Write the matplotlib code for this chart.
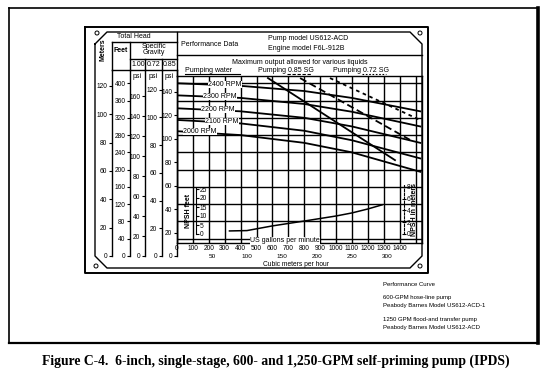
import numpy as np
import matplotlib.pyplot as plt
from matplotlib.patches import Circle

plt.rcParams['font.family'] = ['Liberation Sans', 'DejaVu Sans']

# ---- data -------------------------------------------------------------
rpm_labels = ['2400 RPM', '2300 RPM', '2200 RPM', '2100 RPM', '2000 RPM']
label_gpm = [195, 165, 150, 175, 40]
curve_gpm = [0, 400, 800, 1100, 1530]
head_2400 = [400, 394, 382, 366, 335]
head_2300 = [372, 366, 352, 334, 300]
head_2200 = [342, 335, 320, 300, 262]
head_2100 = [315, 307, 290, 268, 226]
head_2000 = [289, 280, 262, 240, 195]
curve_head = [head_2400, head_2300, head_2200, head_2100, head_2000]

# maximum-output limit lines (GPM, ft)
limit_water_gpm, limit_water_ft = [572, 1371], [412, 222]
limit_085_gpm, limit_085_ft = [774, 1465], [412, 269]
limit_072_gpm, limit_072_ft = [962, 1528], [412, 315]

npsh_gpm = [330, 440, 600, 800, 1000, 1100, 1200, 1290]
npsh_ft = [1.7, 1.9, 4.5, 7.2, 10.0, 11.7, 13.9, 16.2]

gpm_ticks = list(range(0, 1600, 100))
gpm_labels = [str(v) for v in range(0, 1500, 100)] + ['']
m3h_ticks = [50, 100, 150, 200, 250, 300]
head_grid_ft = list(range(40, 440, 40))

meter_ticks = list(range(0, 140, 20))
feet_ticks = list(range(0, 440, 40))
psi100_ticks = list(range(0, 180, 20))
psi072_ticks = list(range(0, 140, 20))
psi085_ticks = list(range(0, 160, 20))
npsh_ft_ticks = [0, 5, 10, 15, 20, 25]
npsh_m_ticks = [0, 2, 4, 6, 8]

# ---- layout helpers (pixel coords, origin top-left) --------------------
W, H = 550, 376
fig = plt.figure(figsize=(W / 100, H / 100), dpi=100)


def box(x0, y0, x1, y1):
    return [x0 / W, 1 - y1 / H, (x1 - x0) / W, (y1 - y0) / H]


cv = fig.add_axes([0, 0, 1, 1])
cv.set_xlim(0, W)
cv.set_ylim(H, 0)
cv.axis('off')

FT_PX = 1.417 / 3.281   # pixels per foot of head
Y0 = 256                # zero head level
TOPS = 70               # top of the scale columns
top_ft = (Y0 - TOPS) / FT_PX

# outer frame
cv.plot([9, 538], [8, 8], color='k', lw=1.2)
cv.plot([9, 9], [8, 343], color='k', lw=1.2)
cv.plot([538, 538], [8, 343], color='k', lw=2.6)
cv.plot([9, 538], [343, 343], color='k', lw=1.6)

# plate
cv.plot([85, 428, 428, 85, 85], [27, 27, 273, 273, 27], color='k', lw=1.4)
c = 12
px = [95, 95 + c, 422 - c, 422, 422, 422 - c, 95 + c, 95, 95]
py = [32 + c, 32, 32, 32 + c, 268 - c, 268, 268, 268 - c, 32 + c]
cv.plot(px, py, color='k', lw=1.0)
for cx, cy in [(97, 33), (420, 33), (96, 266), (420, 266)]:
    cv.add_patch(Circle((cx, cy), 2.0, fill=False, lw=0.7, color='k'))

# header table lines (left)
seg = [((112, 177), (42, 42)), ((130, 177), (59, 59)), ((112, 177), (70, 70)),
       ((112, 112), (42, 70)), ((130, 130), (42, 70)), ((145, 145), (59, 70)),
       ((162, 162), (59, 70)), ((177, 177), (32, 76)), ((177, 422), (55, 55))]
for xs, ys in seg:
    cv.plot(xs, ys, color='k', lw=1.0)

fs = 5
cv.text(134, 37, 'Total Head', fontsize=fs, ha='center', va='center')
cv.text(103, 50, 'Meters', fontsize=fs, rotation=90, ha='center', va='center', weight='bold')
cv.text(121, 50, 'Feet', fontsize=fs, ha='center', va='center', weight='bold')
cv.text(154, 47, 'Specific', fontsize=fs, ha='center', va='center')
cv.text(154, 53, 'Gravity', fontsize=fs, ha='center', va='center')
for x, s in [(138, '1.00'), (154, '0.72'), (170, '0.85')]:
    cv.text(x, 65, s, fontsize=fs, ha='center', va='center')
    cv.text(x - 1, 76, 'psi', fontsize=fs, ha='center', va='center')

cv.text(181, 45, 'Performance Data', fontsize=fs, va='center')
cv.text(268, 39, 'Pump model US612-ACD', fontsize=fs, va='center')
cv.text(268, 49, 'Engine model F6L-912B', fontsize=fs, va='center')
cv.text(300, 62, 'Maximum output allowed for various liquids', fontsize=fs, ha='center', va='center')
cv.text(185, 70, 'Pumping water', fontsize=fs, va='center')
cv.text(258, 70, 'Pumping 0.85 SG', fontsize=fs, va='center')
cv.text(333, 70, 'Pumping 0.72 SG', fontsize=fs, va='center')
cv.plot([185, 240], [73.5, 73.5], color='k', lw=0.8)
cv.plot([287, 312], [73.5, 73.5], color='k', lw=0.8, dashes=(3, 1.5))
cv.plot([362, 386], [73.5, 73.5], color='k', lw=0.8, dashes=(1.5, 1.5))

# right-hand notes
notes = [(284, 'Performance Curve'), (297, '600-GPM hose-line pump'),
         (305, 'Peabody Barnes Model US612-ACD-1'),
         (319, '1250 GPM flood-and transfer pump'),
         (327, 'Peabody Barnes Model US612-ACD')]
for y, s in notes:
    cv.text(383, y, s, fontsize=4.3, va='center')

cv.text(276, 361, 'Figure C-4.  6-inch, single-stage, 600- and 1,250-GPM self-priming pump (IPDS)',
        fontsize=9.8, family='Liberation Serif', weight='bold', ha='center', va='center')

# ---- head scales (each a single spine) ---------------------------------
scales = [(112, 1 / 3.281, meter_ticks), (130, 1.0, feet_ticks),
          (145, 0.433, psi100_ticks), (162, 0.433 * 0.72, psi072_ticks),
          (177, 0.433 * 0.85, psi085_ticks)]
for sx, k, ticks in scales:
    s = fig.add_axes(box(sx, TOPS, sx + 0.01, Y0))
    s.set_ylim(0, top_ft * k)
    s.patch.set_visible(False)
    for side in ['top', 'right', 'bottom']:
        s.spines[side].set_visible(False)
    s.spines['left'].set_linewidth(1.0)
    s.set_xticks([])
    s.set_yticks(ticks)
    s.tick_params(axis='y', length=2.5, width=0.8, pad=0.8, labelsize=4.8)

# ---- main graph ---------------------------------------------------------
GX0, GX1, GY0, GY1 = 177, 422, 76, 243
ax = fig.add_axes(box(GX0, GY0, GX1, GY1))
gpm_px = 0.159
ax.set_xlim(0, (GX1 - GX0) / gpm_px)
ax.set_ylim((Y0 - GY1) / FT_PX, (Y0 - GY0) / FT_PX)
ax.patch.set_visible(False)
for sp in ax.spines.values():
    sp.set_linewidth(1.0)
ax.set_xticks(gpm_ticks)
ax.set_xticklabels(gpm_labels)
ax.set_yticks(head_grid_ft)
ax.set_yticklabels([])
ax.tick_params(length=0, labelsize=4.8, pad=1.5)
ax.tick_params(axis='y', left=False)
ax.grid(True, color='k', lw=1.0)

for h in curve_head:
    ax.plot(curve_gpm, h, color='k', lw=1.3)
ax.plot(limit_water_gpm, limit_water_ft, color='k', lw=1.3)
ax.plot(limit_085_gpm, limit_085_ft, color='k', lw=1.3, dashes=(4, 2))
ax.plot(limit_072_gpm, limit_072_ft, color='k', lw=1.3, dashes=(2, 2))

for lab, g, h in zip(rpm_labels, label_gpm, curve_head):
    ax.text(g, np.interp(g, curve_gpm, h), lab, fontsize=5, ha='left', va='center',
            bbox=dict(facecolor='white', edgecolor='none', pad=0.2))

ax.text(460, 35, 'US gallons per minute', fontsize=5, va='center',
        bbox=dict(facecolor='white', edgecolor='none', pad=0.3))

sec = ax.secondary_xaxis(-0.065, functions=(lambda q: q / 4.403, lambda m: m * 4.403))
sec.set_xticks(m3h_ticks)
sec.spines['bottom'].set_visible(False)
sec.tick_params(length=0, labelsize=4.6, pad=0)
cv.text(296, 264.5, 'Cubic meters per hour', fontsize=4.8, ha='center', va='center')

# ---- NPSH inset -----------------------------------------------------------
NP0, NP_PX = 234, 1.8
an = fig.add_axes(box(GX0, GY0, GX1, GY1))
an.set_xlim(ax.get_xlim())
an.set_ylim((NP0 - GY1) / NP_PX, (NP0 - GY0) / NP_PX)
an.axis('off')
an.plot(npsh_gpm, npsh_ft, color='k', lw=1.1)

nf = fig.add_axes(box(196, NP0 - 25.5 * NP_PX, 196.01, NP0))
nf.set_ylim(0, 25.5)
nf.patch.set_visible(False)
for side in ['top', 'left', 'bottom']:
    nf.spines[side].set_visible(False)
nf.set_xticks([])
nf.yaxis.tick_right()
nf.set_yticks(npsh_ft_ticks)
nf.tick_params(axis='y', length=2, width=0.8, pad=0.8, labelsize=4.8)
cv.text(189, 211, 'NPSH feet', fontsize=5, rotation=90, ha='center', va='center', weight='bold')

nm = fig.add_axes(box(404, NP0 - 8.4 * 3.281 * NP_PX, 404.01, NP0))
nm.set_ylim(0, 8.4)
nm.patch.set_visible(False)
for side in ['top', 'right', 'bottom']:
    nm.spines[side].set_visible(False)
nm.spines['left'].set_linestyle((0, (2, 1.5)))
nm.set_xticks([])
nm.yaxis.tick_right()
nm.set_yticks(npsh_m_ticks)
nm.tick_params(axis='y', direction='inout', length=3, width=0.8, pad=0.5, labelsize=4.8)
cv.text(414, 210, 'NPSH in meters', fontsize=5, rotation=90, ha='center', va='center', weight='bold')

fig.savefig('out.png', dpi=100)
